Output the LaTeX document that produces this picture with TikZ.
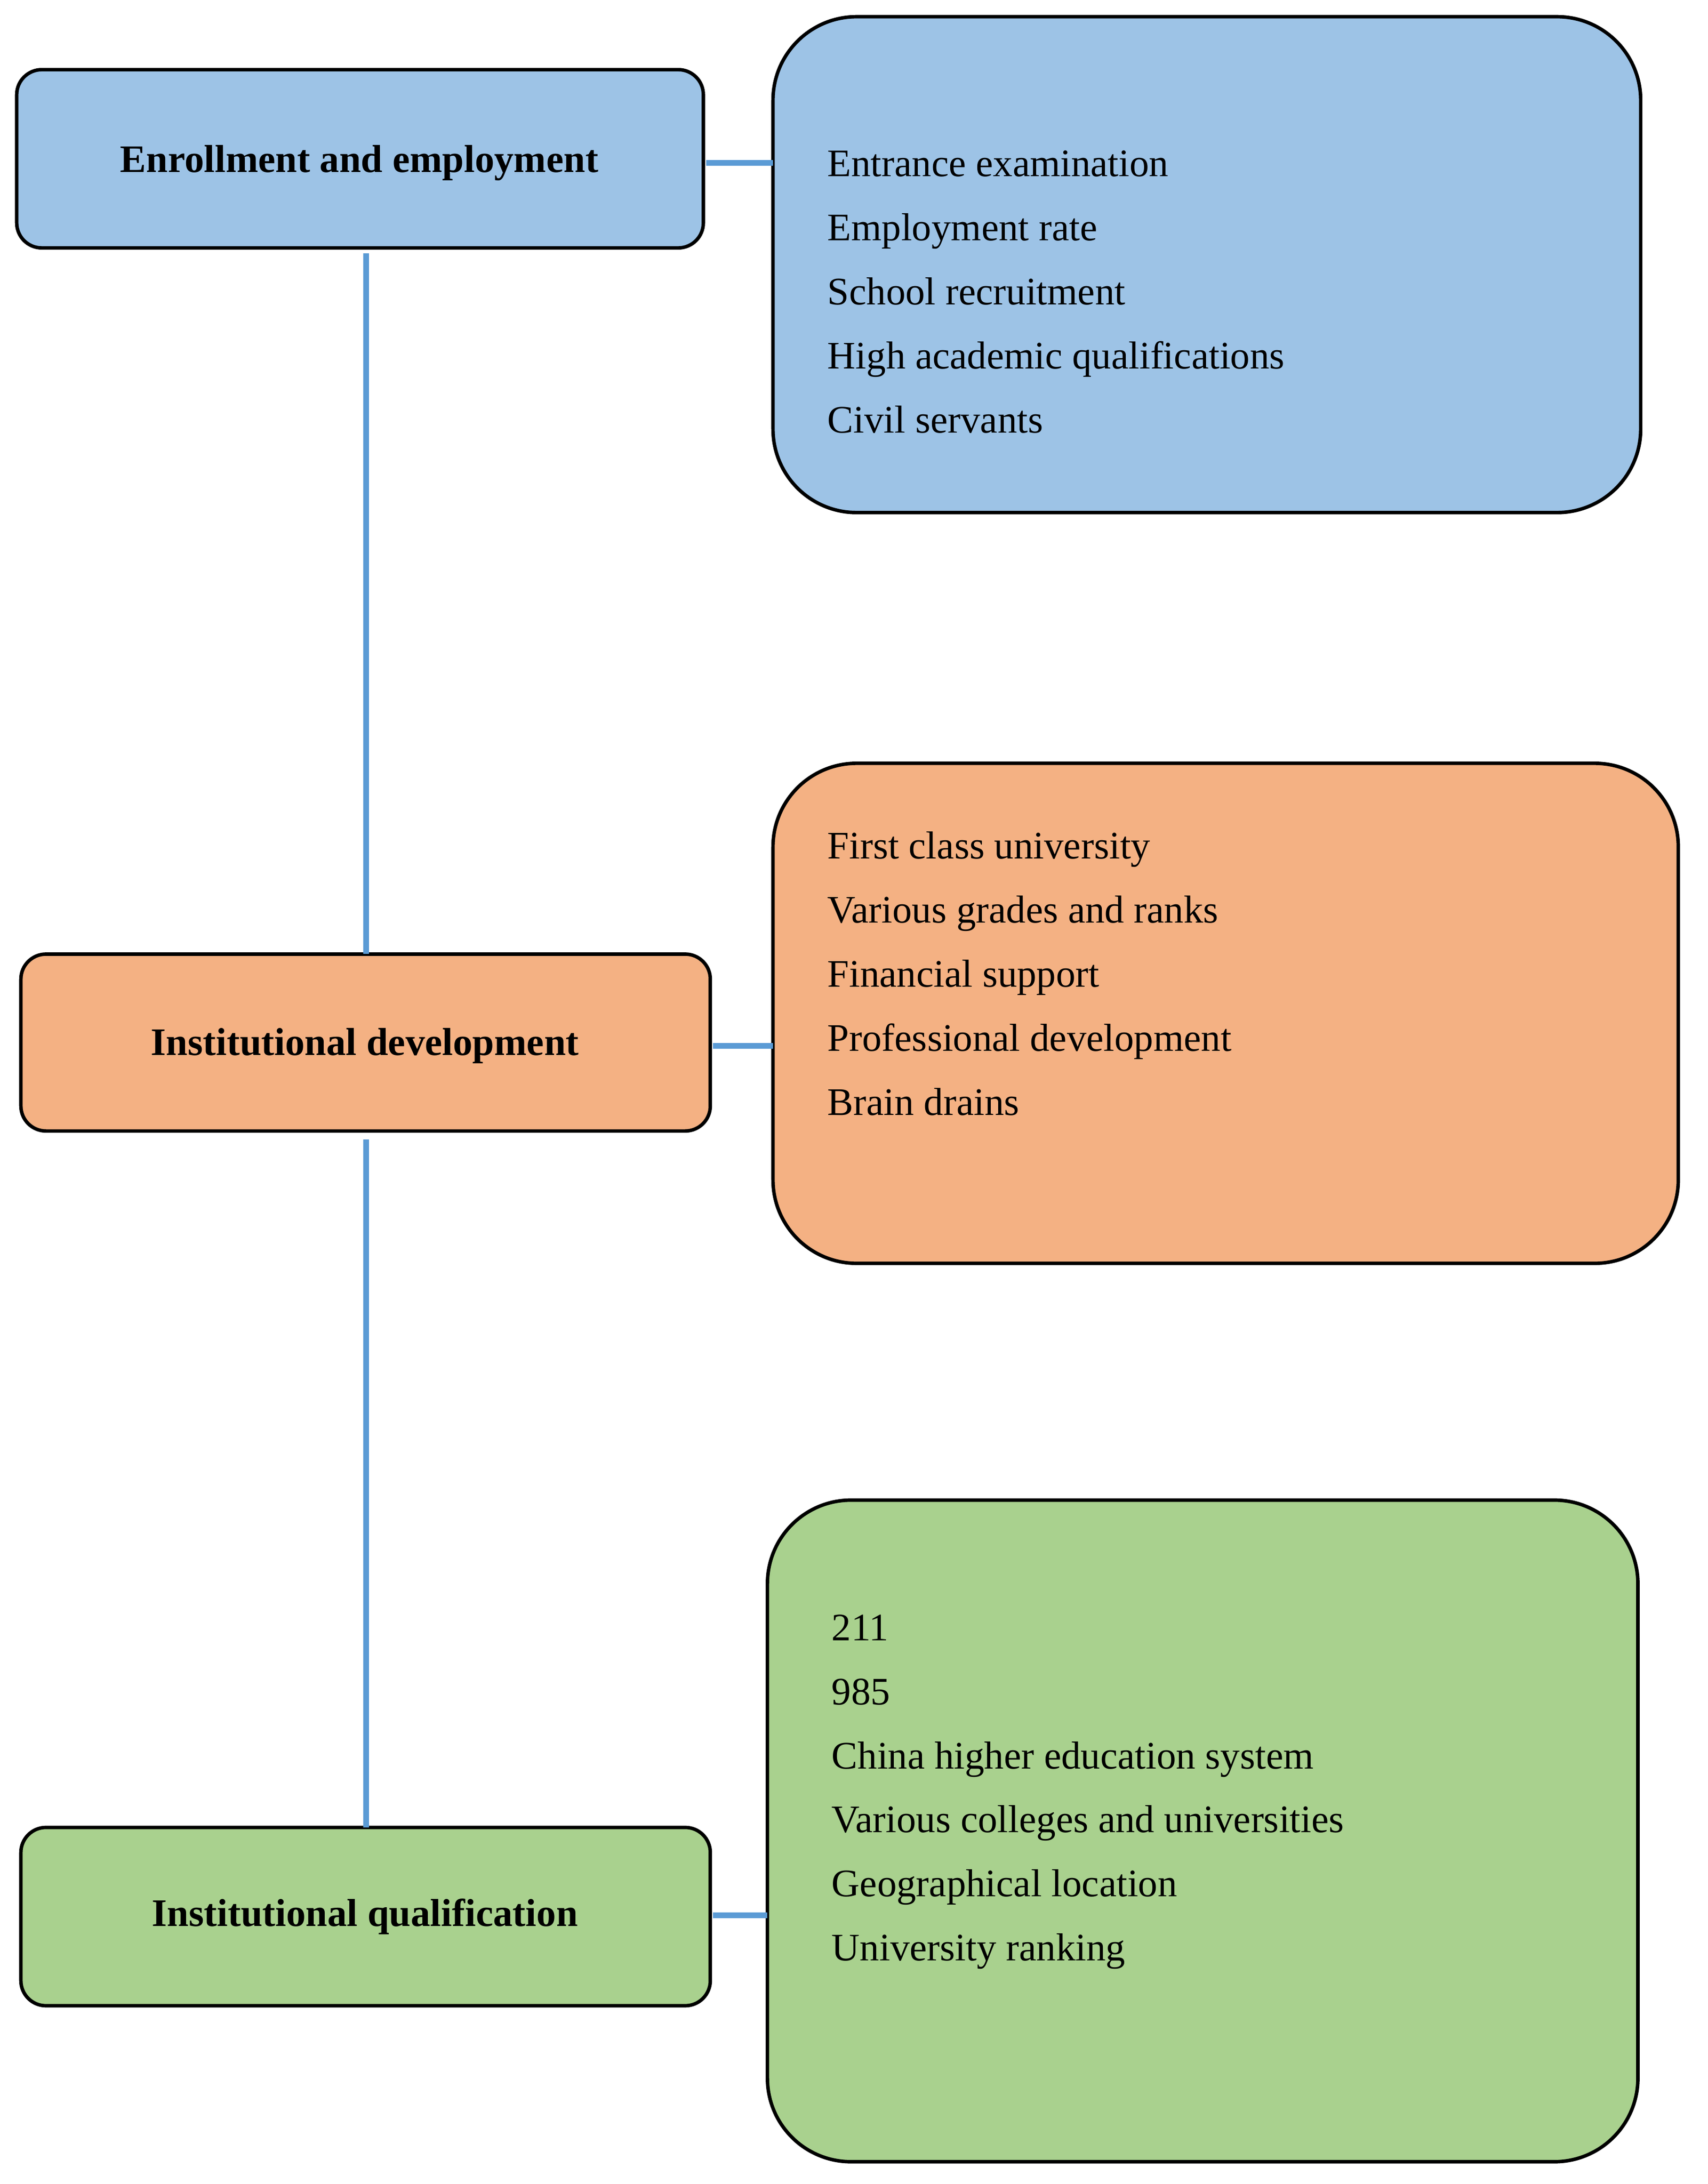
\documentclass[tikz,border=0pt]{standalone}
\usepackage{fontspec}
\setmainfont{Liberation Serif}
\definecolor{bl}{HTML}{9DC3E6}
\definecolor{or}{HTML}{F4B183}
\definecolor{gr}{HTML}{A9D18E}
\definecolor{ln}{HTML}{5B9BD5}
\begin{document}
\begin{tikzpicture}[x=1pt,y=-1pt,
 lbox/.style={draw=black,line width=2.5pt,rounded corners=18pt},
 rbox/.style={draw=black,line width=2.5pt,rounded corners=60pt},
 lt/.style={font=\fontsize{28}{34}\selectfont\bfseries},
 rt/.style={font=\fontsize{28}{46}\selectfont,align=left,anchor=north west,inner sep=0pt},
 conn/.style={draw=ln,line width=4pt}]
\useasboundingbox (0,0) rectangle (1226,1568);
\draw[lbox,fill=bl] (12,50) rectangle (505,178);
\node[lt] (l1) at (258,117) {Enrollment and employment};
\draw[rbox,fill=bl] (555,12) rectangle (1178,368);
\node[rt] (r1) at (594,108) {Entrance examination\\Employment rate\\School recruitment\\High academic qualifications\\Civil servants};
\draw[lbox,fill=or] (15,685) rectangle (510,812);
\node[lt] (l2) at (262,751) {Institutional development};
\draw[rbox,fill=or] (555,548) rectangle (1205,907);
\node[rt] (r2) at (594,597) {First class university\\Various grades and ranks\\Financial support\\Professional development\\Brain drains};
\draw[lbox,fill=gr] (15,1312) rectangle (510,1440);
\node[lt] (l3) at (262,1376) {Institutional qualification};
\draw[rbox,fill=gr] (551,1077) rectangle (1176,1552);
\node[rt] (r3) at (597,1159) {211\\985\\China higher education system\\Various colleges and universities\\Geographical location\\University ranking};
\coordinate (a1) at (263,182); \coordinate (a2) at (263,685);
\coordinate (b1) at (263,818); \coordinate (b2) at (263,1312);
\draw[conn] (a1) -- (a2); \draw[conn] (b1) -- (b2);
\draw[conn] (507,117) -- (555,117);
\draw[conn] (512,751) -- (555,751);
\draw[conn] (512,1375) -- (551,1375);
\end{tikzpicture}
\end{document}
